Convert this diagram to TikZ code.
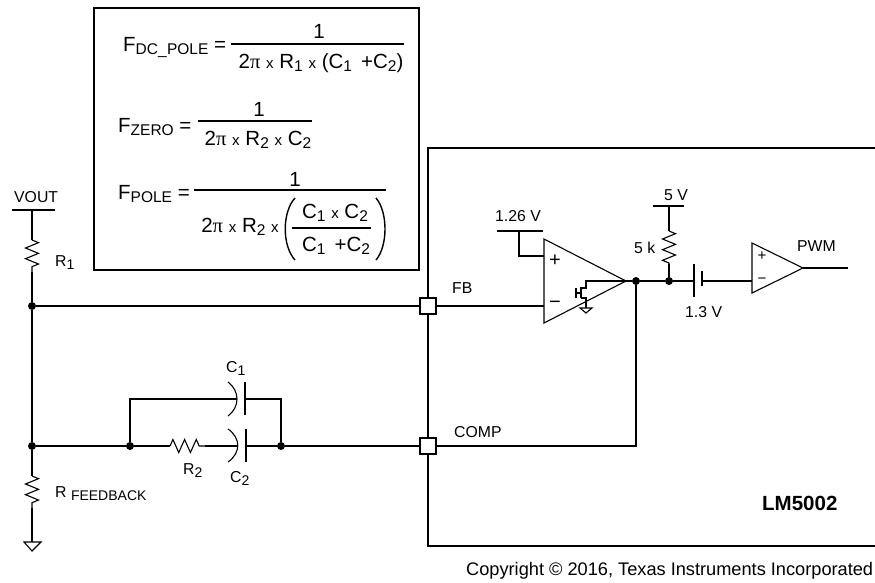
\documentclass[tikz,border=0pt]{standalone}
\usepackage{fontspec}
\setmainfont{Liberation Sans}
\newfontfamily\pifont{Liberation Serif}
\usetikzlibrary{decorations.pathmorphing}
\newcommand{\lblsub}[1]{\raisebox{-0.25em}{\fontsize{14}{15}\selectfont #1}}
\newcommand{\eqsub}[1]{\raisebox{-0.18em}{\fontsize{15.5}{16}\selectfont #1}}
\newcommand{\eqx}{\hspace{0.28em}{\fontsize{15}{15}\selectfont x}\hspace{0.28em}}
\newcommand{\eqpi}{2{\pifont π}}
\tikzset{
	wire/.style={line width=1.1pt},
	res/.style={wire, decorate, decoration={zigzag, amplitude=6.5pt, segment length=10.67pt}},
	lbl/.style={anchor=base west, inner sep=0pt, font=\fontsize{15.8}{18}\selectfont},
	sign/.style={anchor=center, inner sep=0pt, font=\fontsize{20}{22}\selectfont},
	smallsign/.style={anchor=center, inner sep=0pt, font=\fontsize{15}{16}\selectfont},
	eqn/.style={anchor=base, inner sep=0pt, font=\fontsize{20.5}{24}\selectfont},
	dot/.style={circle, fill=black, inner sep=0pt, minimum size=8pt},
	pinbox/.style={draw, fill=white, line width=1.1pt, inner sep=0pt, minimum size=16pt}
}
\begin{document}
\begin{tikzpicture}[x=1pt, y=-1pt]
	\useasboundingbox (0,0) rectangle (875,582);
	\clip (0,0) rectangle (875,582);

	% formula box
	\begin{scope}
	  \draw[line width=1.1pt] (94,8) rectangle (419,270);
	  \node[eqn, anchor=base west] (fdc) at (123,51) {F\eqsub{DC\_\hspace{0.02em}POLE} =};
	  \node[eqn] (fdcnum) at (319,38) {1};
	  \node[eqn] (fdcden) at (321,68) {\eqpi\eqx R\eqsub{1}\eqx(C\eqsub{1}\, +C\eqsub{2})};
	  \draw[wire] (231,44) -- (404,44);

	  \node[eqn, anchor=base west] (fzero) at (118,132) {F\eqsub{ZERO} =};
	  \node[eqn] (fzeronum) at (259,116) {1};
	  \node[eqn] (fzeroden) at (258,145) {\eqpi\eqx R\eqsub{2}\eqx C\eqsub{2}};
	  \draw[wire] (198,121) -- (312,121);

	  \node[eqn, anchor=base west] (fpole) at (118,199) {F\eqsub{POLE} =};
	  \node[eqn] (fpolenum) at (295,186) {1};
	  \node[eqn] (fpoleden) at (240,232) {\eqpi\eqx R\eqsub{2}\eqx};
	  \draw[wire] (194,190) -- (386,190);
	  \node[eqn] (ctop) at (335,218) {C\eqsub{1}\eqx C\eqsub{2}};
	  \node[eqn] (cbot) at (336,251) {C\eqsub{1}\, +C\eqsub{2}};
	  \draw[wire] (292,228) -- (371,228);
	  \draw[line width=1.4pt] (295,198) .. controls (282,212) and (282,246) .. (295,260);
	  \draw[line width=1.4pt] (376,198) .. controls (388,212) and (388,246) .. (376,260);
	\end{scope}

	% chip outline
	\draw[line width=2pt] (880,148) -- (428,148) -- (428,546) -- (880,546);

	% feedback divider
	\coordinate (voutbar) at (32,210);
	\coordinate (r1top) at (32,240);
	\coordinate (r1bot) at (32,272);
	\node[dot] (fbdot) at (32,306) {};
	\node[dot] (compdot) at (32,446) {};
	\coordinate (rfbtop) at (32,476);
	\coordinate (rfbbot) at (32,508);
	\coordinate (gndtop) at (32,542);
	\node[pinbox] (fbpin) at (428,306) {};
	\node[pinbox] (comppin) at (428,446) {};
	\draw[wire] (12,210) -- (55,210);
	\draw[wire] (voutbar) -- (r1top);
	\draw[res] (r1top) -- (r1bot);
	\draw[wire] (r1bot) -- (fbdot);
	\draw[wire] (fbdot) -- (compdot);
	\draw[wire] (compdot) -- (rfbtop);
	\draw[res] (rfbtop) -- (rfbbot);
	\draw[wire] (rfbbot) -- (gndtop);
	\draw[wire] (24,542) -- (41,542) -- (32,551) -- cycle;
	\draw[wire] (fbdot) -- (fbpin);

	% compensation network
	\node[dot] (leftdot) at (130,446) {};
	\node[dot] (rightdot) at (281,446) {};
	\coordinate (r2left) at (170,446);
	\coordinate (r2right) at (205,446);
	\coordinate (c2a) at (238,446);
	\coordinate (c2b) at (246,446);
	\coordinate (c1a) at (237,399);
	\coordinate (c1b) at (245,399);
	\draw[wire] (compdot) -- (leftdot);
	\draw[wire] (leftdot) -- (r2left);
	\draw[res, decoration={segment length=11.67pt}] (r2left) -- (r2right);
	\draw[wire] (r2right) -- (c2a);
	\draw[wire] (c2b) -- (rightdot);
	\draw[wire] (leftdot) |- (c1a);
	\draw[wire] (c1b) -| (rightdot);
	\draw[wire] (rightdot) -- (comppin);
	\draw[wire] (228,429) .. controls (241,438) and (241,453) .. (228,462);
	\draw[wire] (246,429) -- (246,462);
	\draw[wire] (228,382) .. controls (240,391) and (240,407) .. (228,416);
	\draw[wire] (245,382) -- (245,415);

	% error amplifier
	\coordinate (eatop) at (544,239);
	\coordinate (eabot) at (544,323);
	\coordinate (eatip) at (626,281);
	\node[dot] (outdot) at (636,281) {};
	\node[dot] (pulldot) at (669,281) {};
	\coordinate (eaplus) at (544,256);
	\coordinate (eaminus) at (544,306);
	\coordinate (refbar) at (519,231);
	\draw[wire] (eatop) -- (eatip) -- (eabot) -- cycle;
	\draw[wire] (497,231) -- (543,231);
	\draw[wire] (refbar) |- (eaplus);
	\draw[wire] (fbpin) -- (eaminus);
	\draw[wire] (eatip) -- (outdot);
	\draw[wire] (outdot) |- (comppin);
	\node[sign] (eaplussign) at (555,261) {+};
	\node[sign] (eaminussign) at (555,305) {−};

	% pull down
	\draw[wire] (eatip) -- (586,281) -- (586,288) -- (581,288);
	\draw[wire] (581,287) -- (581,298);
	\draw[wire] (581,298) -- (586,298) -- (586,308);
	\draw[wire] (576,288) -- (576,298);
	\draw[wire] (576,293) -- (580,293);
	\draw[wire] (580,308) -- (592,308) -- (586,313) -- cycle;

	% pwm path
	\coordinate (pullbar) at (669,206);
	\coordinate (pulltop) at (669,231);
	\coordinate (pullbot) at (669,264);
	\coordinate (capa) at (694,281);
	\coordinate (capb) at (702,281);
	\coordinate (pwmtop) at (752,243);
	\coordinate (pwmbot) at (752,293);
	\coordinate (pwmtip) at (803,268);
	\coordinate (pwmminus) at (752,281);
	\coordinate (pwmout) at (848,268);
	\draw[wire] (653,206) -- (684,206);
	\draw[wire] (pullbar) -- (pulltop);
	\draw[res] (pulltop) -- (pullbot);
	\draw[wire] (pullbot) -- (pulldot);
	\draw[wire] (outdot) -- (pulldot);
	\draw[wire] (pulldot) -- (capa);
	\draw[wire] (694,264) -- (694,297);
	\draw[wire] (702,271) -- (702,286);
	\draw[wire] (capb) -- (pwmminus);
	\draw[wire] (pwmtop) -- (pwmtip) -- (pwmbot) -- cycle;
	\draw[wire] (pwmtip) -- (pwmout);
	\node[smallsign] (pwmplussign) at (762,256) {+};
	\node[smallsign] (pwmminussign) at (762,281) {−};

	% labels
	\node[lbl] (voutlbl) at (14,202) {VOUT};
	\node[lbl] (r1lbl) at (55,266) {R\lblsub{1}};
	\node[lbl] (rfblbl) at (55,497) {R \lblsub{FEEDBACK}};
	\node[lbl] (c1lbl) at (226,372) {C\lblsub{1}};
	\node[lbl] (c2lbl) at (230,482) {C\lblsub{2}};
	\node[lbl] (r2lbl) at (183,474) {R\lblsub{2}};
	\node[lbl] (fblbl) at (452,293) {FB};
	\node[lbl] (complbl) at (454,437) {COMP};
	\node[lbl] (reflbl) at (495,221) {1.26 V};
	\node[lbl] (fivevlbl) at (664,200) {5 V};
	\node[lbl] (fiveklbl) at (634,253) {5 k};
	\node[lbl] (caplbl) at (685,317) {1.3 V};
	\node[lbl] (pwmlbl) at (797,251) {PWM};
	\node[lbl, font=\fontsize{20.5}{24}\selectfont\bfseries] (chiplbl) at (762,510) {LM5002};
	\node[lbl, font=\fontsize{18.2}{22}\selectfont] (copylbl) at (466,575) {Copyright © 2016, Texas Instruments Incorporated};
\end{tikzpicture}
\end{document}
